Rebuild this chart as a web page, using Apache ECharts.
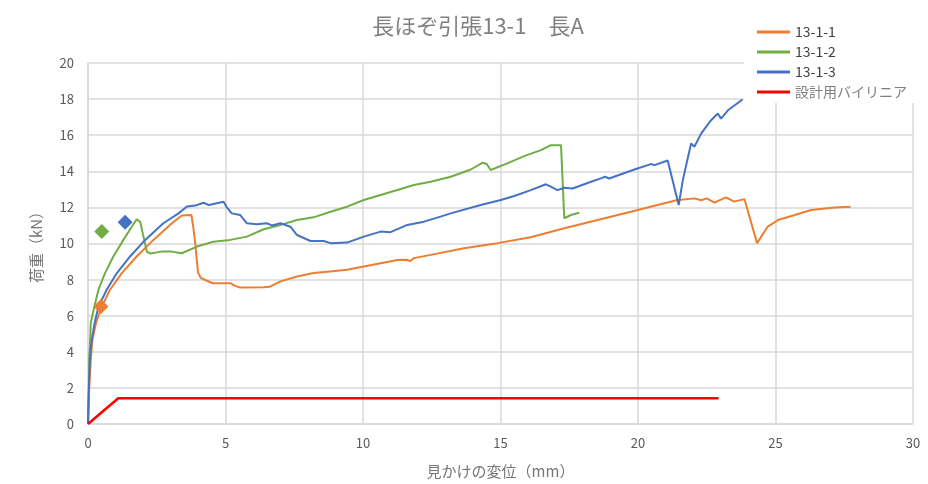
<!DOCTYPE html>
<html>
<head>
<meta charset="utf-8">
<script src="https://cdn.jsdelivr.net/npm/echarts@6/dist/echarts.min.js"></script>
<style>
  html, body { margin: 0; padding: 0; background: #fff; }
  #chart { width: 928px; height: 484px; }
</style>
</head>
<body>
<div id="chart"></div>
<script>
// Load–displacement curves, tenon pull-out test 13-1 (displacement mm, load kN)
const xTicks = { min: 0, max: 30, step: 5 };
const yTicks = { min: 0, max: 20, step: 2 };

const seriesNames = ['13-1-1', '13-1-2', '13-1-3', '設計用バイリニア'];

const s1311 = [
  [0,0],[0.04,1.9],[0.11,3.75],[0.16,4.67],[0.29,5.6],[0.5,6.5],[0.8,7.44],[1.23,8.36],
  [1.77,9.28],[2.38,10.2],[3.05,11.12],[3.41,11.55],[3.76,11.58],[3.82,11.0],[3.9,10.0],
  [4.0,8.4],[4.1,8.1],[4.3,7.95],[4.55,7.8],[5.17,7.8],[5.35,7.65],[5.53,7.56],[6.39,7.58],
  [6.6,7.6],[7.0,7.9],[7.6,8.17],[8.2,8.36],[8.8,8.45],[9.42,8.54],[10.03,8.72],[10.64,8.91],
  [11.25,9.09],[11.6,9.1],[11.7,9.02],[11.85,9.19],[12.46,9.37],[13.67,9.74],[14.89,10.02],
  [16.1,10.35],[17.32,10.84],[18.53,11.3],[19.74,11.76],[20.96,12.23],[21.4,12.4],[22.05,12.5],
  [22.3,12.4],[22.5,12.5],[22.78,12.26],[23.2,12.56],[23.5,12.32],[23.87,12.46],[24.33,10.02],
  [24.72,10.94],[25.09,11.3],[25.7,11.58],[26.3,11.86],[27.15,12.0],[27.73,12.04]
];

const s1312 = [
  [0,0],[0.03,1.9],[0.05,3.75],[0.08,4.67],[0.1,5.6],[0.23,6.5],[0.38,7.44],[0.62,8.36],
  [0.92,9.28],[1.29,10.2],[1.59,10.93],[1.77,11.34],[1.9,11.2],[2.0,10.5],[2.14,9.55],
  [2.25,9.45],[2.68,9.55],[3.05,9.55],[3.41,9.46],[3.96,9.83],[4.56,10.1],[5.17,10.2],
  [5.78,10.38],[6.39,10.79],[7.0,11.03],[7.6,11.3],[8.2,11.45],[8.82,11.76],[9.42,12.04],
  [10.03,12.41],[10.64,12.69],[11.25,12.96],[11.85,13.24],[12.46,13.42],[13.19,13.7],
  [13.92,14.1],[14.34,14.47],[14.5,14.4],[14.64,14.07],[15.25,14.44],[15.86,14.84],
  [16.47,15.17],[16.83,15.45],[17.2,15.45],[17.32,11.4],[17.56,11.58],[17.86,11.7]
];

const s1313 = [
  [0,0],[0.03,1.9],[0.07,3.75],[0.14,4.67],[0.24,5.6],[0.38,6.5],[0.68,7.44],[1.05,8.36],
  [1.53,9.28],[2.08,10.2],[2.74,11.12],[3.29,11.67],[3.6,12.05],[3.9,12.1],[4.2,12.26],
  [4.4,12.13],[4.93,12.31],[5.05,12.0],[5.23,11.67],[5.53,11.58],[5.78,11.12],[6.14,11.07],
  [6.5,11.12],[6.69,11.0],[7.0,11.12],[7.36,10.93],[7.6,10.47],[8.09,10.14],[8.57,10.14],
  [8.82,10.02],[9.42,10.05],[10.03,10.38],[10.64,10.66],[11.0,10.63],[11.61,11.03],
  [12.22,11.21],[12.82,11.49],[13.19,11.67],[14.28,12.13],[15.01,12.41],[15.5,12.63],
  [16.1,12.96],[16.65,13.28],[16.83,13.15],[17.07,12.96],[17.32,13.09],[17.62,13.05],
  [18.29,13.42],[18.65,13.61],[18.8,13.7],[18.95,13.6],[19.87,14.1],[20.47,14.4],
  [20.6,14.34],[21.08,14.6],[21.48,12.13],[21.63,13.51],[21.93,15.54],[22.05,15.36],
  [22.3,16.1],[22.66,16.83],[22.9,17.2],[23.02,16.92],[23.27,17.38],[23.8,17.98]
];

const bilinear = [[0,0],[1.1,1.43],[22.93,1.43]];

// highlighted points, one per specimen
const mark1311 = [[0.47,6.51]];
const mark1312 = [[0.5,10.66]];
const mark1313 = [[1.35,11.18]];

const colors = ['#ed7d31', '#70ad47', '#4472c4', '#ff0000'];
const FONT = '"Noto Sans CJK JP", "Noto Sans", sans-serif';
// plain line swatch for the legend
const LINE_ICON = 'path://M0,0 L33,0 L33,3 L0,3 Z';

const chart = echarts.init(document.getElementById('chart'), null, { renderer: 'canvas' });

function lineSeries(name, data, color, width) {
  return {
    name, type: 'line', data, symbol: 'none', showSymbol: false, smooth: false,
    lineStyle: { color, width }, itemStyle: { color }, animation: false, z: 2
  };
}
function markSeries(name, data, color) {
  return {
    name, type: 'scatter', data, symbol: 'diamond', symbolSize: 15,
    itemStyle: { color, opacity: 1 }, animation: false, z: 4
  };
}

chart.setOption({
  animation: false,
  textStyle: { fontFamily: FONT },
  title: {
    text: '長ほぞ引張13-1　長A',
    left: 473, top: 10, textAlign: 'center',
    textStyle: { fontSize: 22, fontWeight: 'normal', color: '#808080', fontFamily: FONT }
  },
  legend: {
    data: [
      { name: seriesNames[0], icon: LINE_ICON, textStyle: { color: '#404040' } },
      { name: seriesNames[1], icon: LINE_ICON, textStyle: { color: '#404040' } },
      { name: seriesNames[2], icon: LINE_ICON, textStyle: { color: '#404040' } },
      { name: seriesNames[3], icon: LINE_ICON, textStyle: { color: '#7f7f7f' } }
    ],
    orient: 'vertical',
    left: 744, top: 20,
    padding: [5, 10, 4, 13],
    itemGap: 6, itemWidth: 33, itemHeight: 14,
    symbolKeepAspect: true,
    backgroundColor: '#ffffff',
    textStyle: { fontSize: 14, fontFamily: FONT, color: '#404040' }
  },
  grid: { left: 88, right: 15, top: 63, bottom: 59, containLabel: false },
  xAxis: {
    type: 'value', min: xTicks.min, max: xTicks.max, interval: xTicks.step,
    name: '見かけの変位（mm）', nameLocation: 'middle', nameGap: 40,
    nameTextStyle: { fontSize: 15, color: '#767676', fontFamily: FONT },
    axisLine: { show: true, lineStyle: { color: '#d9d9d9', width: 1.5 } },
    axisTick: { show: false },
    axisLabel: { fontSize: 13, color: '#595959', margin: 13, fontFamily: FONT },
    splitLine: { show: true, lineStyle: { color: '#d9d9d9', width: 1.5 } }
  },
  yAxis: {
    type: 'value', min: yTicks.min, max: yTicks.max, interval: yTicks.step,
    name: '荷重（kN）', nameLocation: 'middle', nameGap: 44, nameRotate: 90,
    nameTextStyle: { fontSize: 15, color: '#767676', fontFamily: FONT },
    axisLine: { show: true, lineStyle: { color: '#d9d9d9', width: 1.5 } },
    axisTick: { show: false },
    axisLabel: { fontSize: 13, color: '#595959', margin: 14, fontFamily: FONT },
    splitLine: { show: true, lineStyle: { color: '#d9d9d9', width: 1.5 } }
  },
  series: [
    lineSeries(seriesNames[0], s1311, colors[0], 2),
    lineSeries(seriesNames[1], s1312, colors[1], 2),
    lineSeries(seriesNames[2], s1313, colors[2], 2),
    lineSeries(seriesNames[3], bilinear, colors[3], 2.5),
    markSeries('mark-13-1-1', mark1311, colors[0]),
    markSeries('mark-13-1-2', mark1312, colors[1]),
    markSeries('mark-13-1-3', mark1313, colors[2])
  ]
});
</script>
</body>
</html>
